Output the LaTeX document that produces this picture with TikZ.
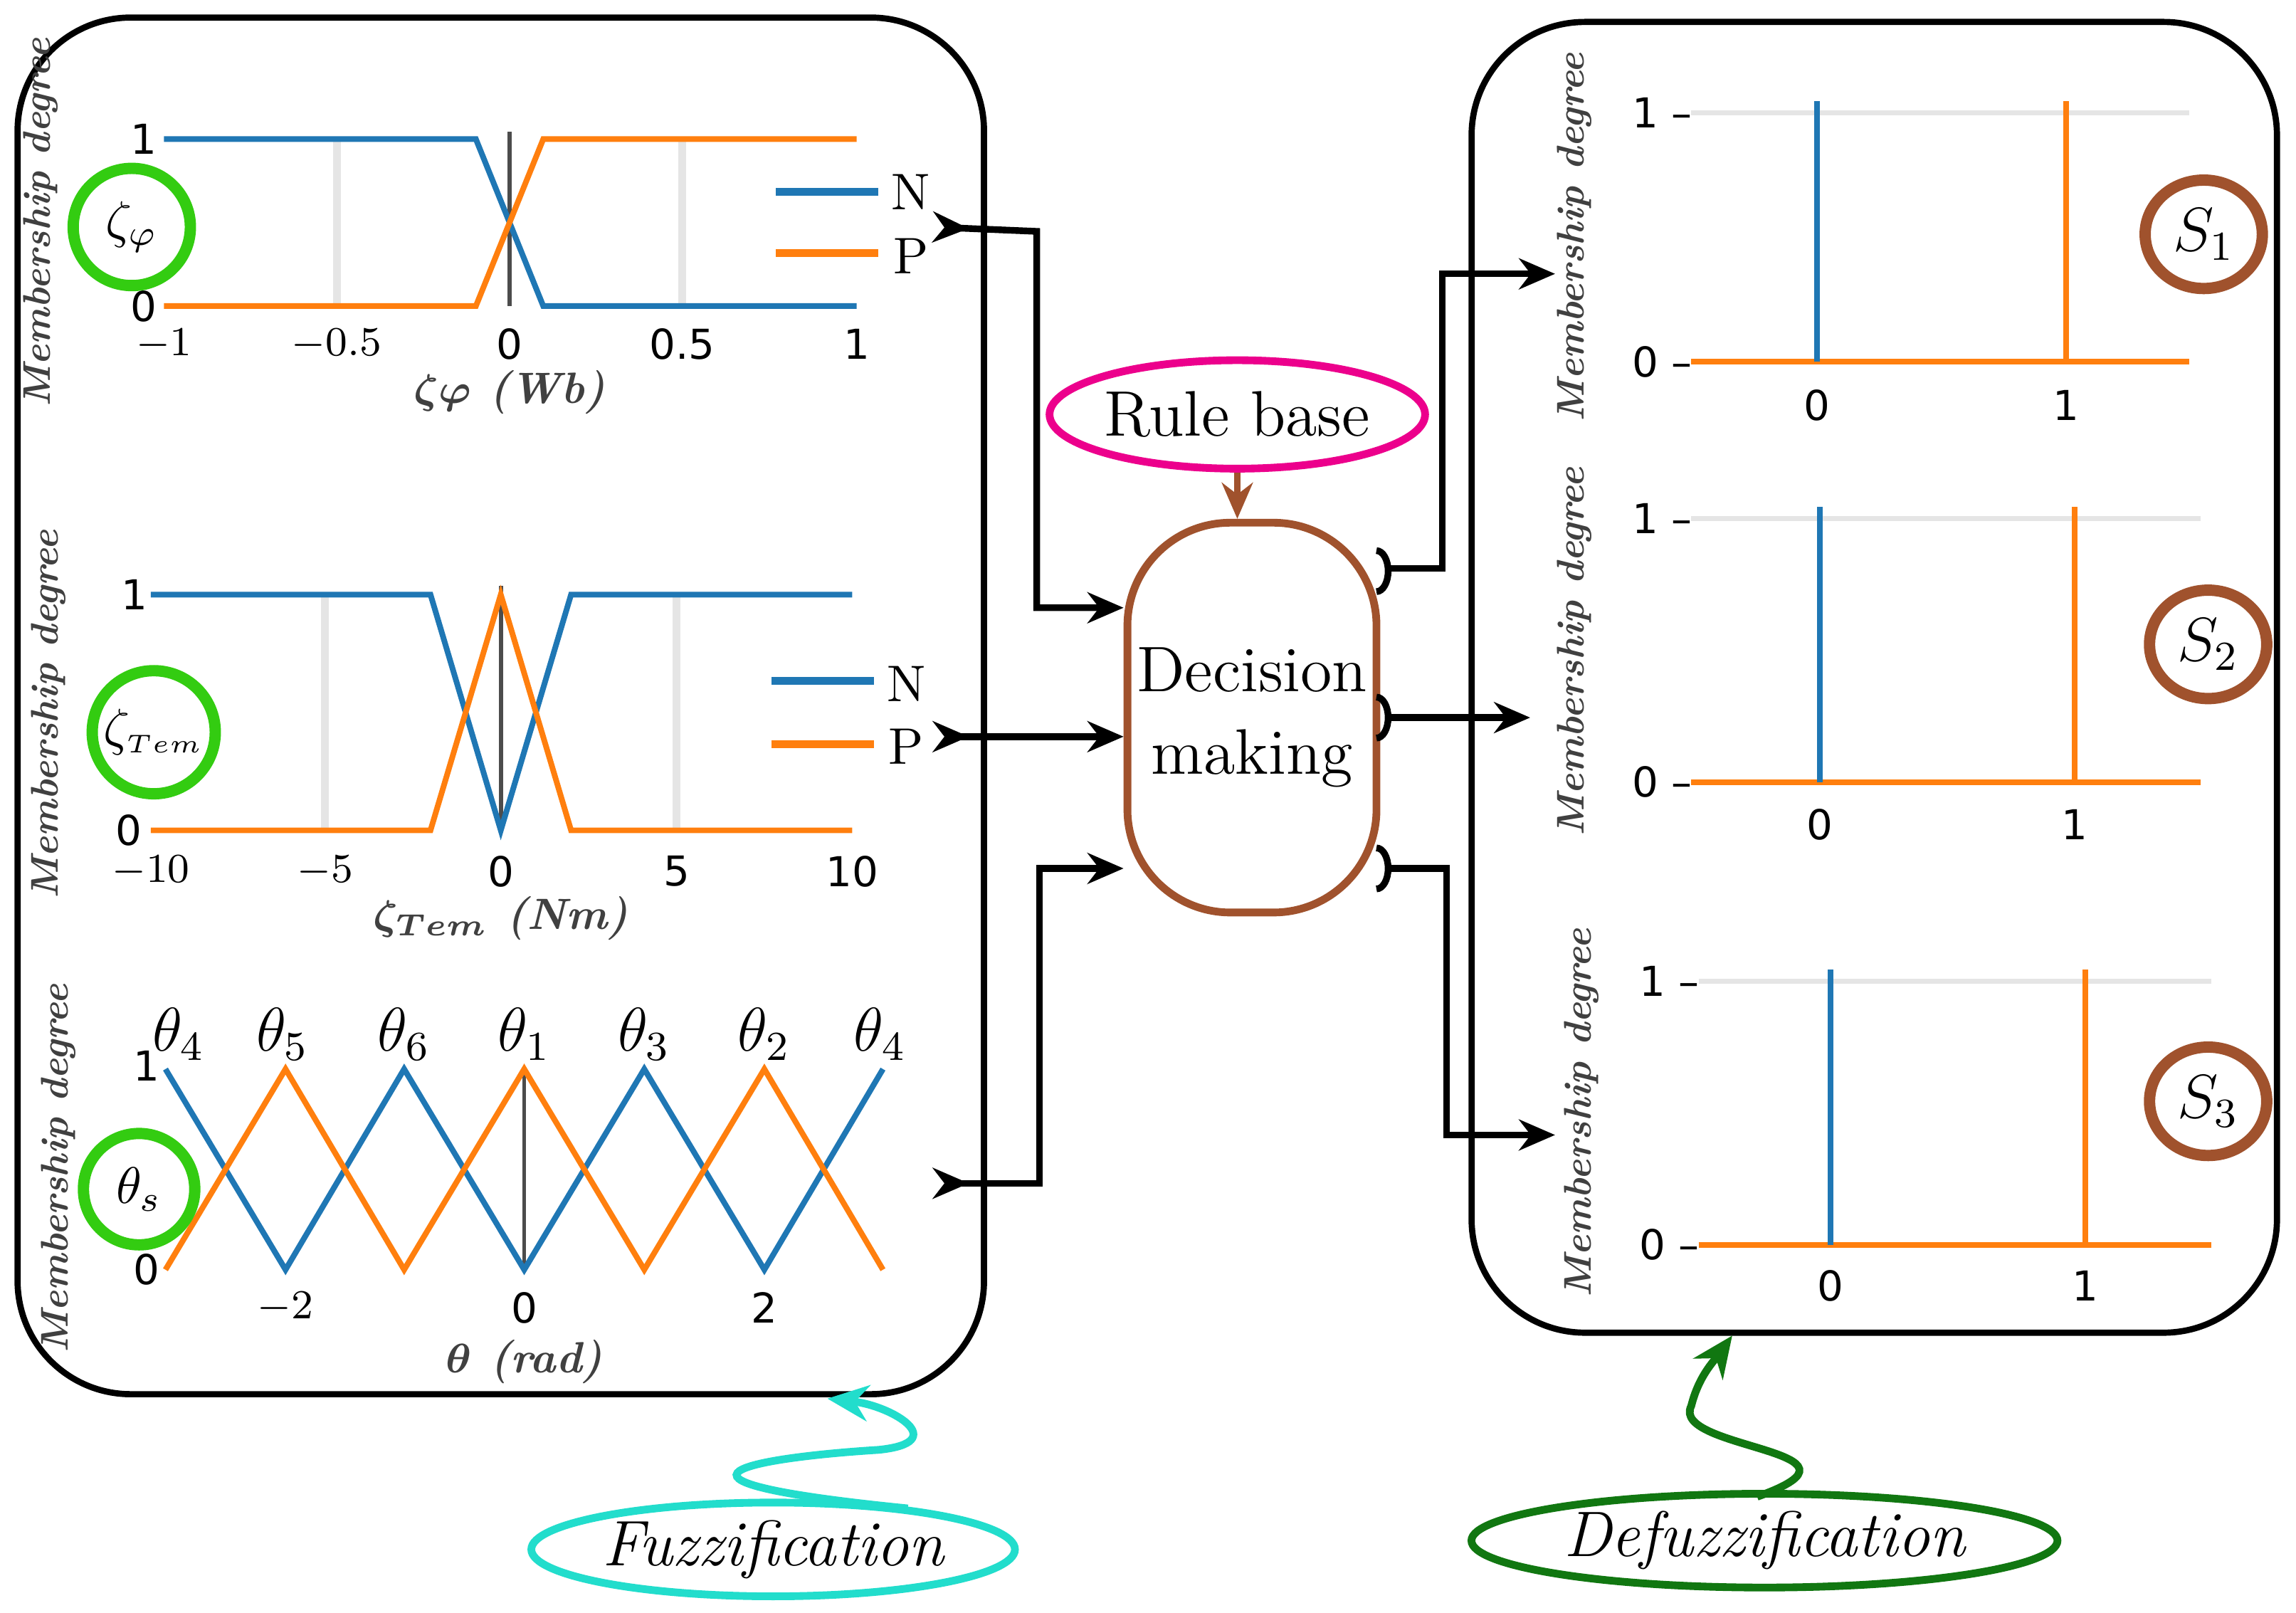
\documentclass[tikz,border=0pt]{standalone}
\usepackage{amsmath}
\usepackage{fontspec}
\newfontfamily\tick{DejaVu Sans}
\usetikzlibrary{arrows.meta,shapes.geometric}
\definecolor{pb}{HTML}{1F77B4}
\definecolor{po}{HTML}{FF7F0E}
\definecolor{brn}{HTML}{A0522D}
\definecolor{grn}{HTML}{33CC11}
\definecolor{tq}{HTML}{22DDCC}
\definecolor{dg}{HTML}{117711}
\tikzset{
 box/.style={draw,line width=1.2pt,rounded corners=22pt},
 cb/.style={pb,line width=1.1pt},
 co/.style={po,line width=1.1pt},
 grid/.style={gray!20,line width=1.5pt},
 tk/.style={font=\tick\fontsize{8}{9}\selectfont},
 ml/.style={font=\bfseries\itshape\fontsize{7.5}{8}\selectfont,rotate=90,text=black!75},
 xl/.style={font=\bfseries\itshape\fontsize{8.5}{9}\selectfont,text=black!75},
 gc/.style={draw=grn,line width=2.2pt,circle,inner sep=0pt,fill=white},
 sc/.style={draw=brn,line width=2.2pt,ellipse,inner sep=0pt,minimum width=0.8cm,minimum height=0.74cm,font=\fontsize{12}{12}\selectfont},
 arr/.style={line width=1.3pt,-{Stealth[length=7pt,width=6pt]}},
 inarr/.style={line width=1.3pt,{Stealth[reversed,length=7pt,width=6pt]}-{Stealth[length=7pt,width=6pt]}},
}
\begin{document}
\begin{tikzpicture}[x=0.01cm,y=-0.01cm]
\useasboundingbox (0,0) rectangle (1568,1101);
% boxes
\draw[box] (12,12) rectangle (672,952);
\draw[box] (1005,15) rectangle (1555,910);
% ---- plot 1
\draw[grid] (230,95)--(230,209) (466,95)--(466,209);
\draw[black!70,line width=0.8pt] (348,90)--(348,209);
\draw[cb] (112,95)--(325,95)--(371,209)--(585,209);
\draw[co] (112,209)--(325,209)--(371,95)--(585,95);
\foreach \x/\l in {112/$-1$,230/$-0.5$,348/0,466/0.5,585/1}\node[tk] at (\x,235){\l};
\node[tk] at (98,95){1}; \node[tk] at (98,209){0};
\node[xl] at (348,268){$\boldsymbol{\zeta\varphi}$ (Wb)};
\node[ml] at (28,152){Membership degree};
\draw[pb,line width=1.5pt] (530,131)--(600,131); \node at (622,131){N};
\draw[po,line width=1.5pt] (530,173)--(600,173); \node at (622,175){P};
\node[gc,minimum size=0.8cm] (c1) at (90,155){$\zeta_{\varphi}$};
% ---- plot 2
\draw[grid] (222,406)--(222,567) (462,406)--(462,567);
\draw[black!70,line width=0.8pt] (342,400)--(342,567);
\draw[cb] (103,406)--(294,406)--(342,567)--(390,406)--(582,406);
\draw[co] (103,567)--(294,567)--(342,406)--(390,567)--(582,567);
\foreach \x/\l in {103/$-10$,222/$-5$,342/0,462/5,582/10}\node[tk] at (\x,595){\l};
\node[tk] at (92,406){1}; \node[tk] at (88,567){0};
\node[xl] at (342,627){$\boldsymbol{\zeta_{Tem}}$ (Nm)};
\node[ml] at (33,488){Membership degree};
\draw[pb,line width=1.5pt] (527,465)--(597,465); \node at (619,467){N};
\draw[po,line width=1.5pt] (527,508)--(597,508); \node at (619,510){P};
\node[gc,minimum size=0.84cm] (c2) at (105,500){$\zeta_{\scriptscriptstyle Tem}$};
% ---- plot 3
\draw[black!70,line width=0.8pt] (358,730)--(358,867);
\draw[cb] (113,730)--(195,867)--(276,730)--(358,867)--(440,730)--(522,867)--(603,730);
\draw[co] (113,867)--(195,730)--(276,867)--(358,730)--(440,867)--(522,730)--(603,867);
\node[gc,minimum size=0.76cm] (c3) at (95,812){$\theta_s$};
\foreach \x/\l in {195/$-2$,358/0,522/2}\node[tk] at (\x,893){\l};
\node[tk] at (100,728){1}; \node[tk] at (100,867){0};
\foreach \x/\l in {122/4,193/5,276/6,358/1,440/3,522/2,601/4}\node[font=\large] at (\x,706){$\theta_{\l}$};
\node[xl] at (358,930){$\boldsymbol{\theta}$ (rad)};
\node[ml] at (40,798){Membership degree};
% ---- center
\node[draw=brn,line width=1.5pt,rounded corners=20pt,inner sep=0pt,minimum width=1.7cm,minimum height=2.66cm,align=center,font=\fontsize{12.5}{16}\selectfont] (dm) at (855,490){Decision\\making};
\node[draw=magenta,line width=1.5pt,ellipse,inner sep=0pt,minimum width=2.5cm,minimum height=0.74cm,font=\fontsize{12.5}{14}\selectfont] (rb) at (845,283){Rule base};
\draw[brn,line width=1.3pt,-{Stealth[length=7pt,width=6pt]}] (rb.south)--(dm.north -| rb.south);
% inputs
\coordinate (i1) at (637,155); \coordinate (i2) at (637,503); \coordinate (i3) at (637,808);
\draw[inarr] (i1)--(708,158)--(708,415)--(dm.west |- 0,415);
\draw[inarr] (i2)--(dm.west |- 0,503);
\draw[inarr] (i3)--(710,808)--(710,593)--(dm.west |- 0,593);
% outputs
\foreach \y in {390,490,593}\draw[line width=1.3pt] (940,\y-14) arc (90:-90:8 and -14);
\coordinate (o1) at (1062,187); \coordinate (o2) at (1045,490); \coordinate (o3) at (1062,775);
\draw[arr] (948,388)--(985,388)--(985,187)--(o1);
\draw[arr] (948,490)--(o2);
\draw[arr] (948,593)--(988,593)--(988,775)--(o3);
% ---- output plots
\foreach \xa/\xb/\ya/\yb/\ls/\le/\yl/\yc/\k in {1241/1411/247/77/1155/1495/277/162/1,1243/1417/534/354/1155/1503/563/445/2,1250/1424/850/670/1160/1510/878/760/3}{
 \draw[grid,line width=1pt] (\ls,\yb)--(\le,\yb);
 \draw[co] (\ls,\ya)--(\le,\ya);
 \draw[cb] (\xa,\ya)--(\xa,\yb-8);
 \draw[co] (\xb,\ya)--(\xb,\yb-8);
 \node[tk] at (\ls-20,\yb){1 –}; \node[tk] at (\ls-20,\ya){0 –};
 \node[tk] at (\xa,\yl){0}; \node[tk] at (\xb,\yl){1};
 \node[ml] at (\ls-80,\yc){Membership degree};
}
\node[sc] (s1) at (1505,160){$S_1$};
\node[sc] (s2) at (1508,440){$S_2$};
\node[sc] (s3) at (1508,752){$S_3$};
% ---- labels
\node[draw=tq,line width=1.5pt,ellipse,inner sep=0pt,minimum width=3.3cm,minimum height=0.64cm,font=\itshape\fontsize{12.5}{14}\selectfont] (fz) at (528,1058){Fuzzification};
\node[draw=dg,line width=1.5pt,ellipse,inner sep=0pt,minimum width=4cm,minimum height=0.64cm,font=\itshape\fontsize{12.5}{14}\selectfont] (dz) at (1205,1052){Defuzzification};
\coordinate (fb) at (565,955); \coordinate (db) at (1183,912);
\draw[tq,line width=1.5pt,-{Stealth[length=8pt,width=7pt]}] (620,1030) .. controls (420,1010) and (520,995) .. (600,990) .. controls (650,985) and (610,960) .. (fb);
\draw[dg,line width=1.5pt,-{Stealth[length=8pt,width=7pt]}] (1200,1022) .. controls (1290,990) and (1140,990) .. (1155,960) .. controls (1160,940) and (1170,930) .. (db);
\end{tikzpicture}
\end{document}
